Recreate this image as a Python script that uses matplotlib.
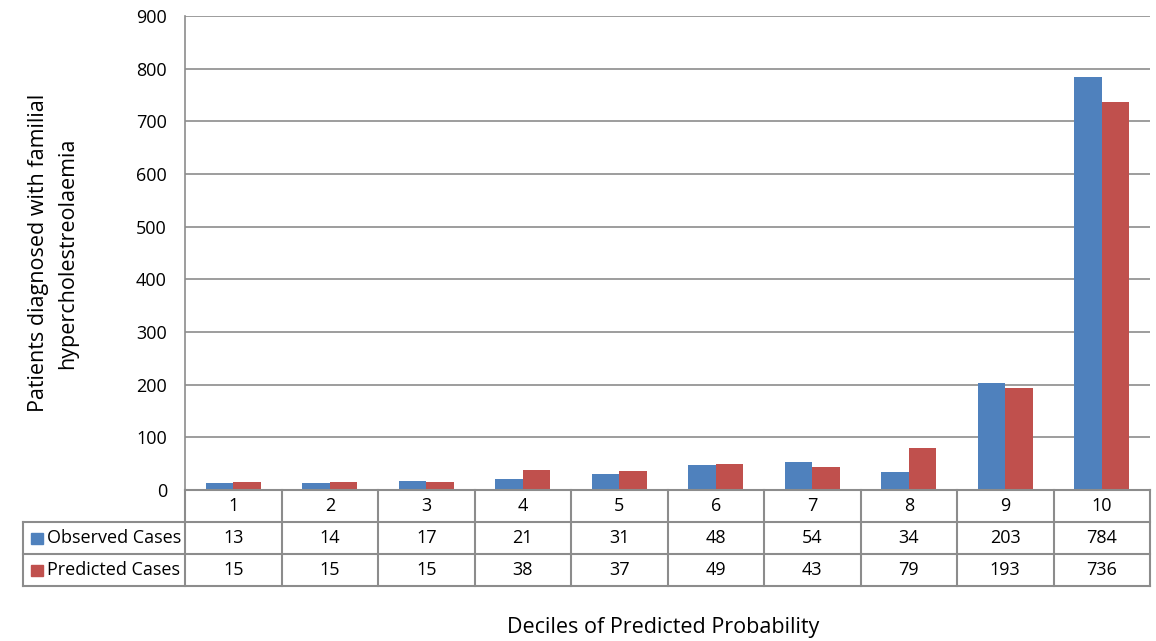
import matplotlib
matplotlib.use("Agg")
import matplotlib.pyplot as plt
import numpy as np

deciles = ["1", "2", "3", "4", "5", "6", "7", "8", "9", "10"]
observed = [13, 14, 17, 21, 31, 48, 54, 34, 203, 784]
predicted = [15, 15, 15, 38, 37, 49, 43, 79, 193, 736]
series_names = ["Observed Cases", "Predicted Cases"]
colors = ["#4F81BD", "#C0504D"]
yticks = [0, 100, 200, 300, 400, 500, 600, 700, 800, 900]

plt.rcParams['font.family'] = ['Open Sans', 'DejaVu Sans']

W, H = 1156, 641
fig = plt.figure(figsize=(W / 100, H / 100), dpi=100)
L, R, T, B = 185, 1150, 16, 490
ax = fig.add_axes([L / W, 1 - B / H, (R - L) / W, (B - T) / H])

n = len(deciles)
x = np.arange(1, n + 1)
w = 1 / 3.5
ax.bar(x - w / 2, observed, width=w, color=colors[0], zorder=3)
ax.bar(x + w / 2, predicted, width=w, color=colors[1], zorder=3)

fs = 13
ax.set_xlim(0.5, n + 0.5)
ax.set_ylim(0, 900)
ax.set_yticks(yticks)
ax.set_yticklabels([str(v) for v in yticks], fontsize=fs)
ax.tick_params(axis='y', length=0, pad=13)
ax.set_xticks([])
ax.yaxis.grid(True, color='#8C8C8C', linewidth=1.2, zorder=0)
for s in ['top', 'right', 'bottom']:
    ax.spines[s].set_visible(False)
ax.spines['left'].set_color('#8C8C8C')
ax.spines['left'].set_linewidth(1.2)

# data table
gc = '#8C8C8C'
lw = 1.5
def px2fy(py):
    return 1 - py / H
def dx2fx(dx):
    return (L + (dx - 0.5) / n * (R - L)) / W

rows = [490, 522, 554, 586]
fig.add_artist(plt.Line2D([L / W, R / W], [px2fy(490)] * 2, color=gc, lw=lw))
for ry in rows[1:]:
    fig.add_artist(plt.Line2D([23 / W, R / W], [px2fy(ry)] * 2, color=gc, lw=lw))
for i in range(n + 1):
    fx = dx2fx(0.5 + i)
    fig.add_artist(plt.Line2D([fx, fx], [px2fy(490), px2fy(586)], color=gc, lw=lw))
fig.add_artist(plt.Line2D([23 / W, 23 / W], [px2fy(522), px2fy(586)], color=gc, lw=lw))

for i, d in enumerate(deciles):
    cx = dx2fx(x[i])
    fig.text(cx, px2fy(506), d, ha='center', va='center', fontsize=fs)
    fig.text(cx, px2fy(538), str(observed[i]), ha='center', va='center', fontsize=fs)
    fig.text(cx, px2fy(570), str(predicted[i]), ha='center', va='center', fontsize=fs)

for j, (name, c) in enumerate(zip(series_names, [colors[0], colors[1]])):
    yc = 538 + 32 * j
    fig.add_artist(plt.Rectangle((31 / W, px2fy(yc + 6)), 11.5 / W, 11.5 / H, color=c))
    fig.text(47 / W, px2fy(yc), name, ha='left', va='center', fontsize=fs)

fig.text(663 / W, px2fy(627), "Deciles of Predicted Probability", ha='center', va='center', fontsize=15.5)
fig.text(53 / W, px2fy(253), "Patients diagnosed with familial\nhypercholestreolaemia", ha='center', va='center',
         rotation=90, fontsize=15.5, linespacing=1.5)

fig.savefig("out.png", dpi=100, facecolor='white')
